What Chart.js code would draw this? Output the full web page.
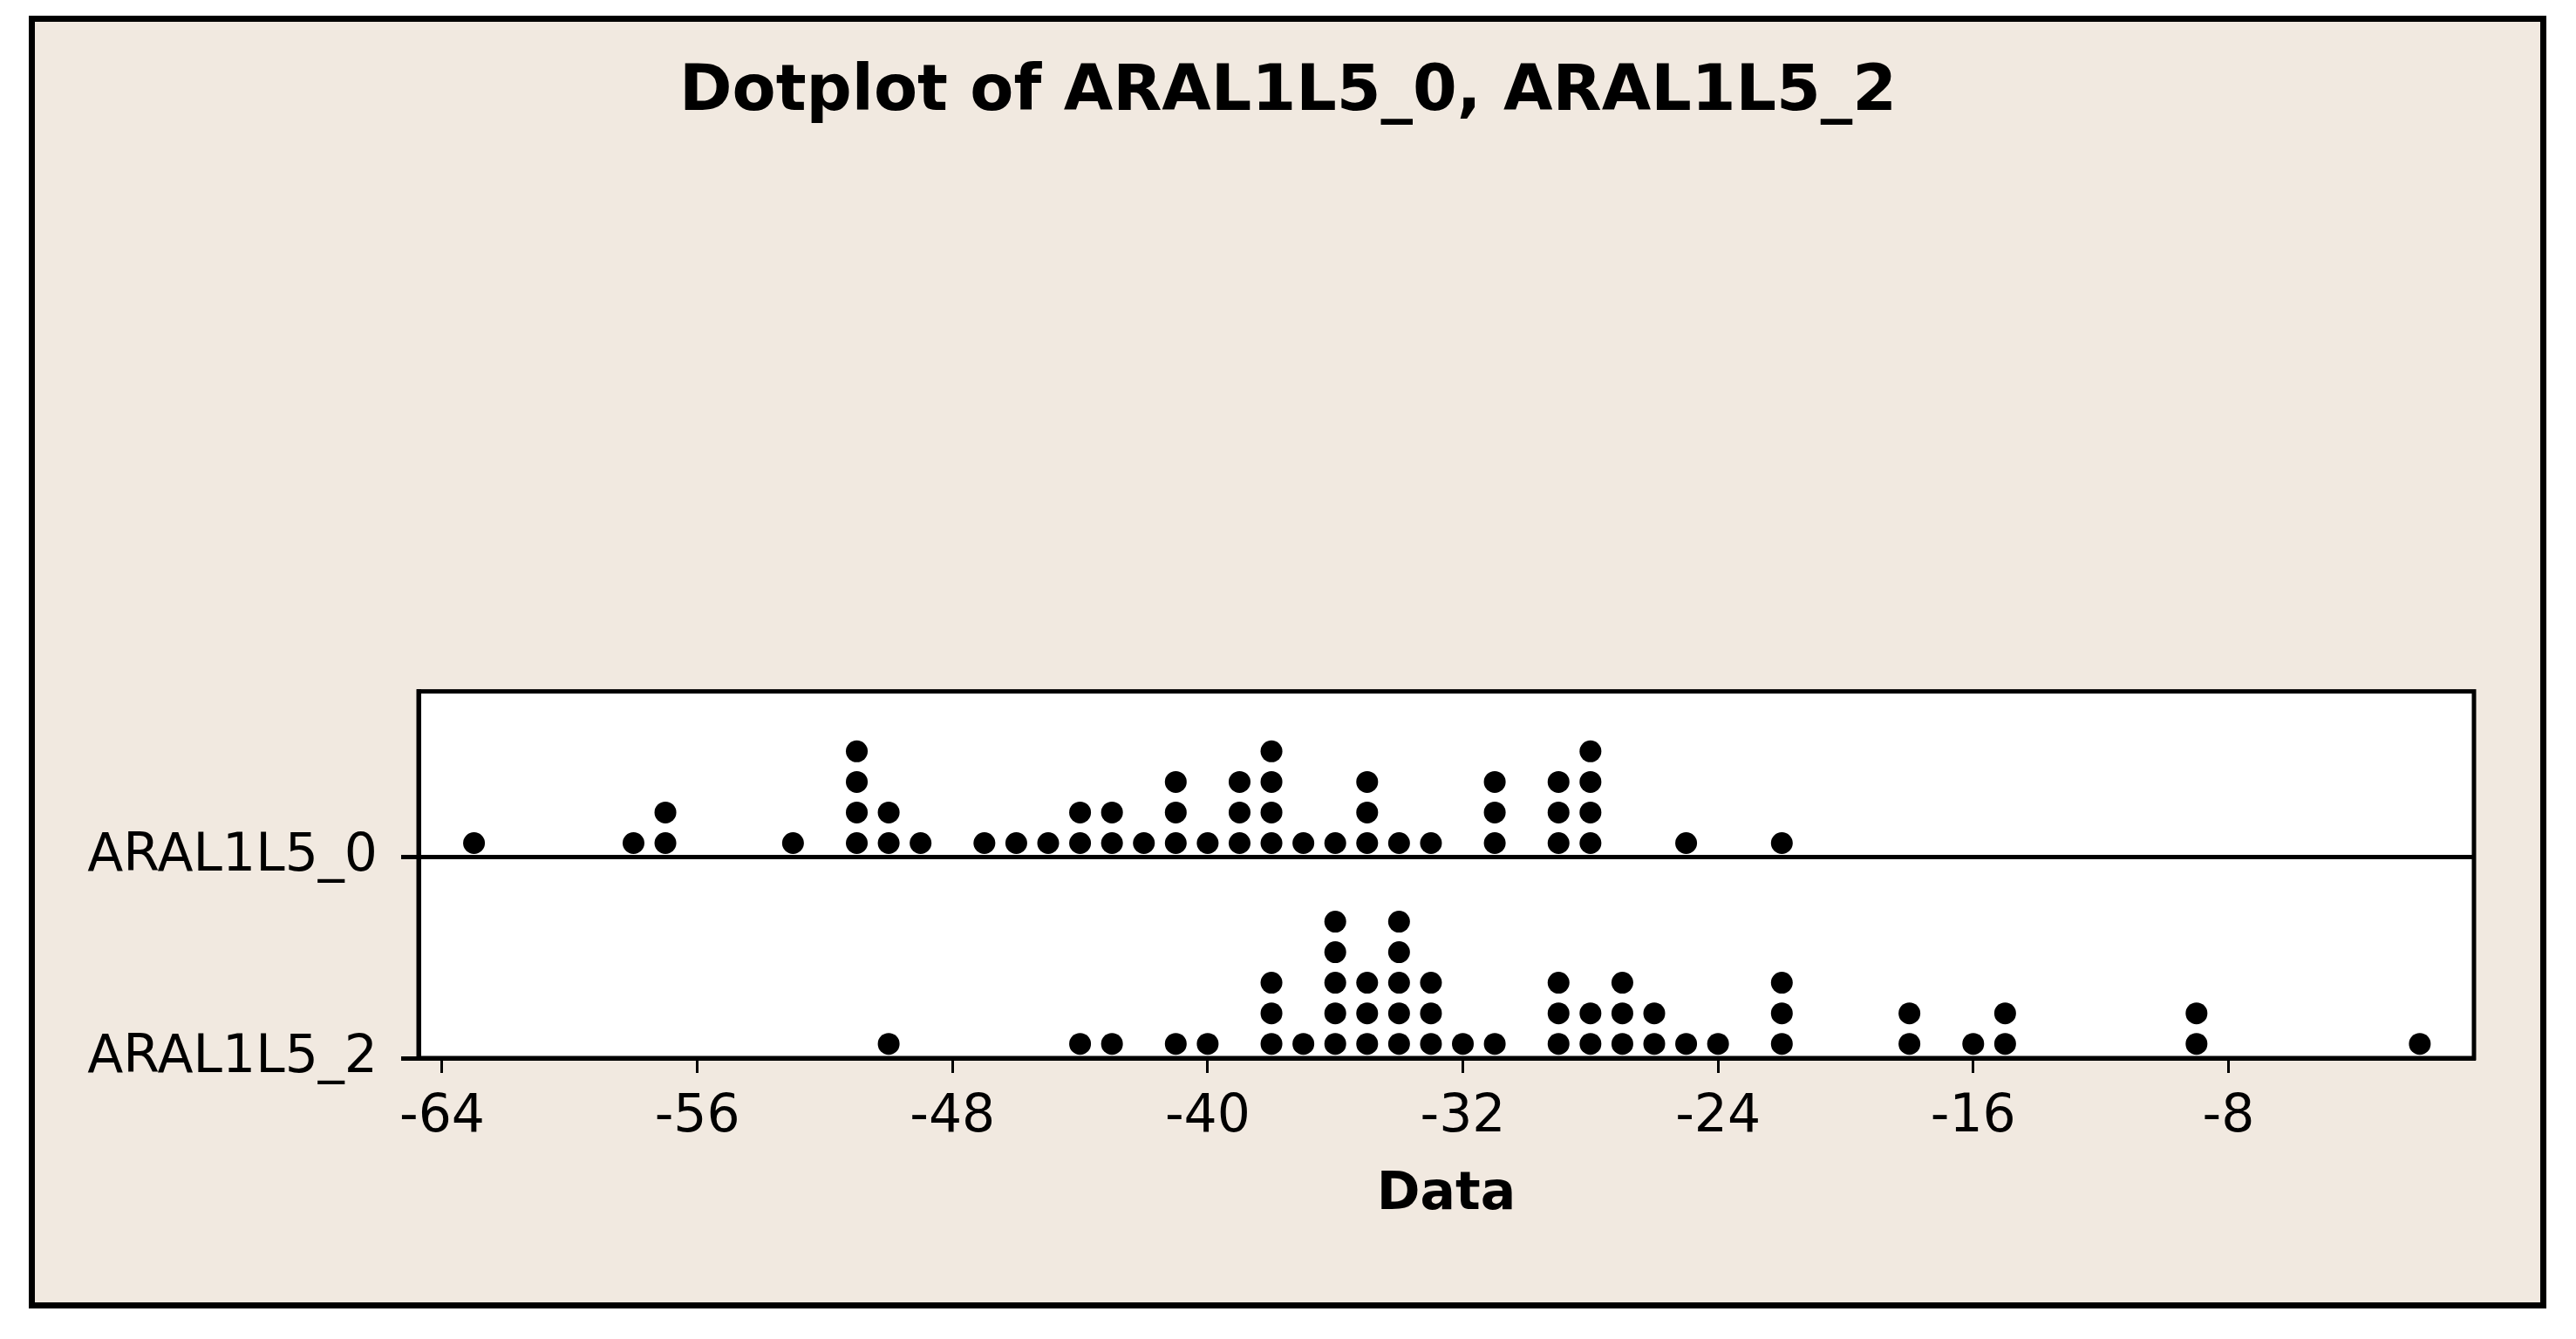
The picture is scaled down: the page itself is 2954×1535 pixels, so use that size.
<!DOCTYPE html>
<html>
<head>
<meta charset="utf-8">
<script src="https://cdn.jsdelivr.net/npm/chart.js@4"></script>
<style>
  html, body { margin: 0; padding: 0; background: #ffffff; }
  canvas { display: block; }
</style>
</head>
<body>
<canvas id="dotplot" width="2954" height="1535"></canvas>
<script>
// series names, bottom-to-top order matches Minitab
const seriesNames = ["ARAL1L5_0", "ARAL1L5_2"];

// observed values (integers), one entry per dot
const aral0 = [
  -63, -58, -57, -57, -53, -51, -51, -51, -51, -50, -50, -49, -47, -46, -45,
  -44, -44, -43, -43, -42, -41, -41, -41, -40, -39, -39, -39, -38, -38, -38, -38,
  -37, -36, -35, -35, -35, -34, -33, -31, -31, -31, -29, -29, -29,
  -28, -28, -28, -28, -25, -22
];
const aral2 = [
  -50, -44, -43, -41, -40, -38, -38, -38, -37, -36, -36, -36, -36, -36,
  -35, -35, -35, -34, -34, -34, -34, -34, -33, -33, -33, -32, -31,
  -29, -29, -29, -28, -28, -27, -27, -27, -26, -26, -25, -24,
  -22, -22, -22, -18, -18, -16, -15, -15, -9, -9, -2
];

const xTicks = [-64, -56, -48, -40, -32, -24, -16, -8];

// layout in y units (1 unit = one dot step)
const rowBase = [6.571, 0];
const dotLift = 0.466;

function stackDots(values, base) {
  const seen = {};
  return values.map((v) => {
    seen[v] = (seen[v] || 0) + 1;
    return { x: v, y: base + dotLift + (seen[v] - 1) };
  });
}

const beige = "#f1e9e0";

// frame + white plot panel
const framePlugin = {
  id: "frame",
  beforeDraw(chart) {
    const ctx = chart.ctx;
    const a = chart.chartArea;
    ctx.save();
    ctx.fillStyle = "#ffffff";
    ctx.fillRect(0, 0, chart.width, chart.height);
    ctx.fillStyle = "#000000";
    ctx.fillRect(33, 18, 2887, 1482);
    ctx.fillStyle = beige;
    ctx.fillRect(40, 25, 2873, 1468);
    ctx.fillStyle = "#ffffff";
    ctx.fillRect(a.left, a.top, a.right - a.left, a.bottom - a.top);
    ctx.restore();
  },
  afterDraw(chart) {
    const ctx = chart.ctx;
    const a = chart.chartArea;
    ctx.save();
    ctx.strokeStyle = "#000000";
    ctx.lineWidth = 5;
    ctx.strokeRect(a.left, a.top, a.right - a.left, a.bottom - a.top);
    ctx.restore();
  },
};

const ctx = document.getElementById("dotplot").getContext("2d");

new Chart(ctx, {
  type: "scatter",
  data: {
    datasets: [
      {
        label: seriesNames[0],
        data: stackDots(aral0, rowBase[0]),
        backgroundColor: "#000000",
        borderWidth: 0,
        pointRadius: 12.5,
        pointHoverRadius: 12.5,
      },
      {
        label: seriesNames[1],
        data: stackDots(aral2, rowBase[1]),
        backgroundColor: "#000000",
        borderWidth: 0,
        pointRadius: 12.5,
        pointHoverRadius: 12.5,
      },
    ],
  },
  options: {
    responsive: false,
    animation: false,
    layout: { padding: 0 },
    plugins: {
      legend: { display: false },
      tooltip: { enabled: false },
      title: {
        display: true,
        text: "Dotplot of ARAL1L5_0, ARAL1L5_2",
        color: "#000000",
        font: { family: "'DejaVu Sans', sans-serif", size: 73, weight: "bold", lineHeight: 1.2 },
        padding: { top: 63, bottom: 642 },
      },
    },
    scales: {
      x: {
        type: "linear",
        min: -64.738,
        max: -0.302,
        afterFit(scale) { scale.height = 322; },
        afterBuildTicks(scale) { scale.ticks = xTicks.map((v) => ({ value: v })); },
        border: { display: true, color: "#000000", width: 5 },
        grid: { drawOnChartArea: false, color: "#000000", lineWidth: 3, tickLength: 17 },
        ticks: {
          color: "#000000",
          padding: 15,
          maxRotation: 0,
          font: { family: "'DejaVu Sans', sans-serif", size: 60, lineHeight: 1.2 },
        },
        title: {
          display: true,
          text: "Data",
          color: "#000000",
          font: { family: "'DejaVu Sans', sans-serif", size: 60, weight: "bold", lineHeight: 1.2 },
          padding: { top: 0, bottom: 129 },
        },
      },
      y: {
        type: "linear",
        min: 0,
        max: 12,
        afterFit(scale) { scale.width = 480; },
        afterBuildTicks(scale) {
          scale.ticks = [{ value: rowBase[1] }, { value: rowBase[0] }];
        },
        border: { display: true, color: "#000000", width: 5 },
        grid: { drawOnChartArea: true, color: "#000000", lineWidth: 5, tickLength: 20 },
        ticks: {
          color: "#000000",
          padding: 27,
          callback: (v) => (v === rowBase[0] ? seriesNames[0] : seriesNames[1]),
          font: { family: "'DejaVu Sans', sans-serif", size: 60 },
        },
      },
      // empty right-hand margin so the title centres on the whole frame
      yRight: {
        type: "linear",
        position: "right",
        min: 0,
        max: 12,
        afterFit(scale) { scale.width = 117; },
        border: { display: false },
        grid: { display: false },
        ticks: { display: false },
      },
    },
  },
  plugins: [framePlugin],
});
</script>
</body>
</html>
